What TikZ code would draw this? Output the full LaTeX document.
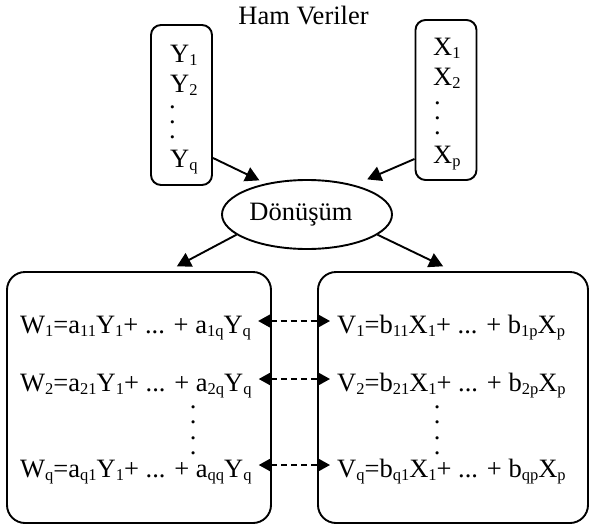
\documentclass[tikz,border=0pt]{standalone}
\usepackage{fontspec}
\setmainfont{Liberation Serif}
\usetikzlibrary{arrows.meta, positioning, shapes.geometric}

\newcommand{\lo}[1]{\raisebox{-0.14em}{\fontsize{16.5}{16.5}\selectfont #1}}
\newcommand{\threedots}{\vbox{\baselineskip=15pt\lineskiplimit=-50pt\hbox{.}\hbox{.}\hbox{.}}}
\newcommand{\fourdots}{\vbox{\baselineskip=15.3pt\lineskiplimit=-50pt\hbox{.}\hbox{.}\hbox{.}\hbox{.}}}

\begin{document}
\begin{tikzpicture}[
  x=1pt, y=-1pt,
  font=\fontsize{26.5}{30}\selectfont,
  src/.style={draw, line width=1.9pt, rounded corners=10pt,
              minimum width=61pt, minimum height=160pt},
  grp/.style={draw, line width=1.9pt, rounded corners=18pt,
              minimum width=#1, minimum height=251pt},
  trf/.style={draw, ellipse, line width=1.9pt, inner sep=0pt,
              minimum width=170pt, minimum height=69pt},
  var/.style={anchor=base west, inner sep=0pt},
  dts/.style={anchor=base west, inner sep=0pt},
  eqn/.style={anchor=west, inner xsep=7pt, inner ysep=0pt,
              text height=24pt, text depth=0pt},
  flow/.style={line width=1.9pt, -{Triangle[length=14pt, width=15pt]}},
  link/.style={line width=1.7pt, dash pattern=on 6pt off 4pt,
               {Triangle[length=13pt, width=14pt]}-{Triangle[length=13pt, width=14pt]}}
]
\useasboundingbox (0,0) rectangle (590,528);

% Raw data
\node[anchor=base] (title) at (303.5,24.5) {Ham Veriler};
\node[src] (ybox) at (181.5,105) {};
\node[src] (xbox) at (446,100) {};
\node[var] (y1) at (170,62) {Y\lo{1}};
\node[var] (y2) at (170,92) {Y\lo{2}};
\node[dts] (yd) at (169,138.5) {\threedots};
\node[var] (yq) at (170,167) {Y\lo{q}};
\node[var] (x1) at (433,55) {X\lo{1}};
\node[var] (x2) at (433,85) {X\lo{2}};
\node[dts] (xd) at (434,134.5) {\threedots};
\node[var] (xp) at (433,163) {X\lo{p}};

% Transformation
\node[trf] (don) at (307,214.5) {Dönüşüm\hspace*{12pt}};

% Canonical variables
\node[grp=264pt] (lbox) at (139,397.5) {};
\node[grp=270pt] (rbox) at (453,397.5) {};
\node[eqn] (w1) at (13,321) {W\lo{1}=a\lo{11}Y\lo{1}+ ... + a\lo{1q}Y\lo{q}};
\node[eqn] (w2) at (13,379) {W\lo{2}=a\lo{21}Y\lo{1}+ ... + a\lo{2q}Y\lo{q}};
\node[dts] (wd) at (189.7,454.5) {\fourdots};
\node[eqn] (wq) at (13,465) {W\lo{q}=a\lo{q1}Y\lo{1}+ ... + a\lo{qq}Y\lo{q}};
\node[eqn] (v1) at (330,321) {V\lo{1}=b\lo{11}X\lo{1}+ ... + b\lo{1p}X\lo{p}};
\node[eqn] (v2) at (330,379) {V\lo{2}=b\lo{21}X\lo{1}+ ... + b\lo{2p}X\lo{p}};
\node[dts] (vd) at (433.7,454.5) {\fourdots};
\node[eqn] (vq) at (330,465) {V\lo{q}=b\lo{q1}X\lo{1}+ ... + b\lo{qp}X\lo{p}};

% Connections
\draw[flow, shorten >=7pt] ([yshift=28pt]ybox.south east) -- (don.143);
\draw[flow, shorten >=14pt] ([yshift=22pt]xbox.south west) -- (don.32);
\draw[flow, shorten >=10pt] (don.196) -- ([xshift=29pt]lbox.north);
\draw[flow, shorten >=11pt] (don.-16) -- (rbox.north);
\draw[link] (w1.east) -- (v1.west);
\draw[link] (w2.east) -- (v2.west);
\draw[link] (wq.east) -- (vq.west);
\end{tikzpicture}
\end{document}
